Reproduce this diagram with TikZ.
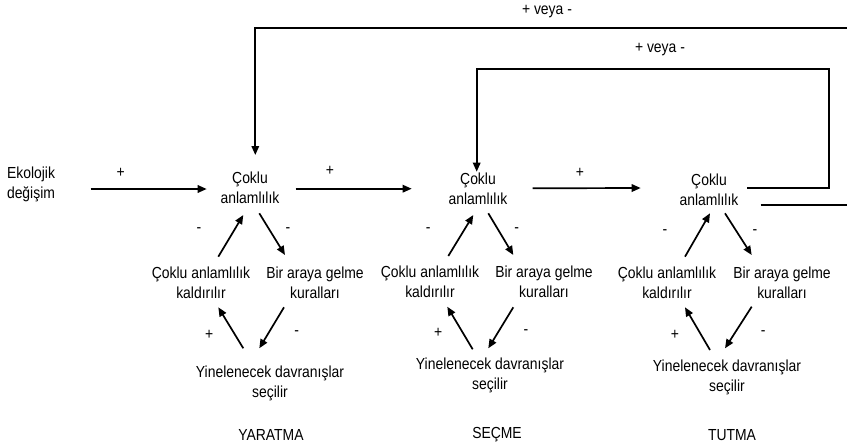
\documentclass[tikz,border=0pt]{standalone}
\usepackage{fontspec}
\setmainfont{Liberation Sans}[FakeStretch=0.87]
\usetikzlibrary{arrows.meta,calc}
\begin{document}
\begin{tikzpicture}[x=1pt,y=-1pt,
  txt/.style={font=\fontsize{16}{20}\selectfont, align=center, inner sep=0pt},
  sgn/.style={font=\fontsize{16}{20}\selectfont, inner sep=0pt},
  arr/.style={line width=1.7pt, -{Triangle[length=9pt,width=7.5pt]}},
  ln/.style={line width=1.7pt}]
\useasboundingbox (0,0) rectangle (847,447);
\fill[white] (0,0) rectangle (847,447);

% left input
\node[txt] (eko) at (31,184) {Ekolojik\\değişim};

% cluster 1
\node[txt] (c1) at (250,188) {Çoklu\\anlamlılık};
\node[txt] (l1) at (201,283) {Çoklu anlamlılık\\kaldırılır};
\node[txt] (r1) at (315,283) {Bir araya gelme\\kuralları};
\node[txt] (b1) at (270,383) {Yinelenecek davranışlar\\seçilir};
% cluster 2
\node[txt] (c2) at (478,189) {Çoklu\\anlamlılık};
\node[txt] (l2) at (430,282) {Çoklu anlamlılık\\kaldırılır};
\node[txt] (r2) at (544,282) {Bir araya gelme\\kuralları};
\node[txt] (b2) at (490,375) {Yinelenecek davranışlar\\seçilir};
% cluster 3
\node[txt] (c3) at (709,190) {Çoklu\\anlamlılık};
\node[txt] (l3) at (667,283) {Çoklu anlamlılık\\kaldırılır};
\node[txt] (r3) at (782,283) {Bir araya gelme\\kuralları};
\node[txt] (b3) at (727,377) {Yinelenecek davranışlar\\seçilir};

% stage labels
\node[txt] (s1) at (271,435) {YARATMA};
\node[txt] (s2) at (497,435) {SEÇME};
\node[txt] (s3) at (732,435) {TUTMA};

% horizontal arrows
\draw[arr] ([shift={(59.7,5)}]eko.center) -- ([shift={(-43.3,1)}]c1.center);
\draw[arr] ([shift={(45.7,0.7)}]c1.center) -- ([shift={(-66.3,-0.3)}]c2.center);
\draw[arr] ([shift={(54.7,-0.7)}]c2.center) -- ([shift={(-68.3,-2)}]c3.center);
\node[sgn] (p1) at (120.7,172.7) {+};
\node[sgn] (p2) at (330,170.5) {+};
\node[sgn] (p3) at (580,172.7) {+};

% cluster 1 arrows
\draw[arr] ([shift={(17.3,-26.3)}]l1.center) -- ([shift={(-6.7,27)}]c1.center);
\draw[arr] ([shift={(9.3,25.3)}]c1.center) -- ([shift={(-30,-28)}]r1.center);
\draw[arr] ([shift={(-31,24.3)}]r1.center) -- ([shift={(-10.7,-34.7)}]b1.center);
\draw[arr] ([shift={(-26.7,-34.7)}]b1.center) -- ([shift={(17.3,24.3)}]l1.center);
\node[sgn] (m11) at (199,230.5) {-};
\node[sgn] (m12) at (288,230.5) {-};
\node[sgn] (m13) at (209.3,335) {+};
\node[sgn] (m14) at (296.7,333.5) {-};

% cluster 2 arrows
\draw[arr] ([shift={(18.3,-26)}]l2.center) -- ([shift={(-4.7,26)}]c2.center);
\draw[arr] ([shift={(10.3,24.3)}]c2.center) -- ([shift={(-30.7,-27)}]r2.center);
\draw[arr] ([shift={(-30.7,25.3)}]r2.center) -- ([shift={(-1.7,-26.7)}]b2.center);
\draw[arr] ([shift={(-17.3,-25.7)}]b2.center) -- ([shift={(17.3,24.7)}]l2.center);
\node[sgn] (m21) at (428.3,230.5) {-};
\node[sgn] (m22) at (516.7,230.5) {-};
\node[sgn] (m23) at (438.3,333.3) {+};
\node[sgn] (m24) at (526,332.5) {-};

% cluster 3 arrows
\draw[arr] ([shift={(18,-26.3)}]l3.center) -- ([shift={(1,23.3)}]c3.center);
\draw[arr] ([shift={(16,23.3)}]c3.center) -- ([shift={(-30.3,-28)}]r3.center);
\draw[arr] ([shift={(-30.3,23.7)}]r3.center) -- ([shift={(-2,-28.7)}]b3.center);
\draw[arr] ([shift={(-17,-27)}]b3.center) -- ([shift={(18,24.3)}]l3.center);
\node[sgn] (m31) at (665,232) {-};
\node[sgn] (m32) at (755,232) {-};
\node[sgn] (m33) at (675,335) {+};
\node[sgn] (m34) at (763.3,333.5) {-};

% feedback loops
\coordinate (innerTR) at (828.7,69.3);
\coordinate (outerTR) at (853,27.7);
\draw[arr] ([shift={(38,-1.7)}]c3.center) -| (innerTR) -| ([shift={(-1.3,-17.3)}]c2.center);
\draw[arr] ([shift={(51.7,15)}]c3.center) -| (outerTR) -| ([shift={(5.3,-33)}]c1.center);
\node[sgn] (v1) at (547,12) {+ veya -};
\node[sgn] (v2) at (660,50) {+ veya -};
\end{tikzpicture}
\end{document}
